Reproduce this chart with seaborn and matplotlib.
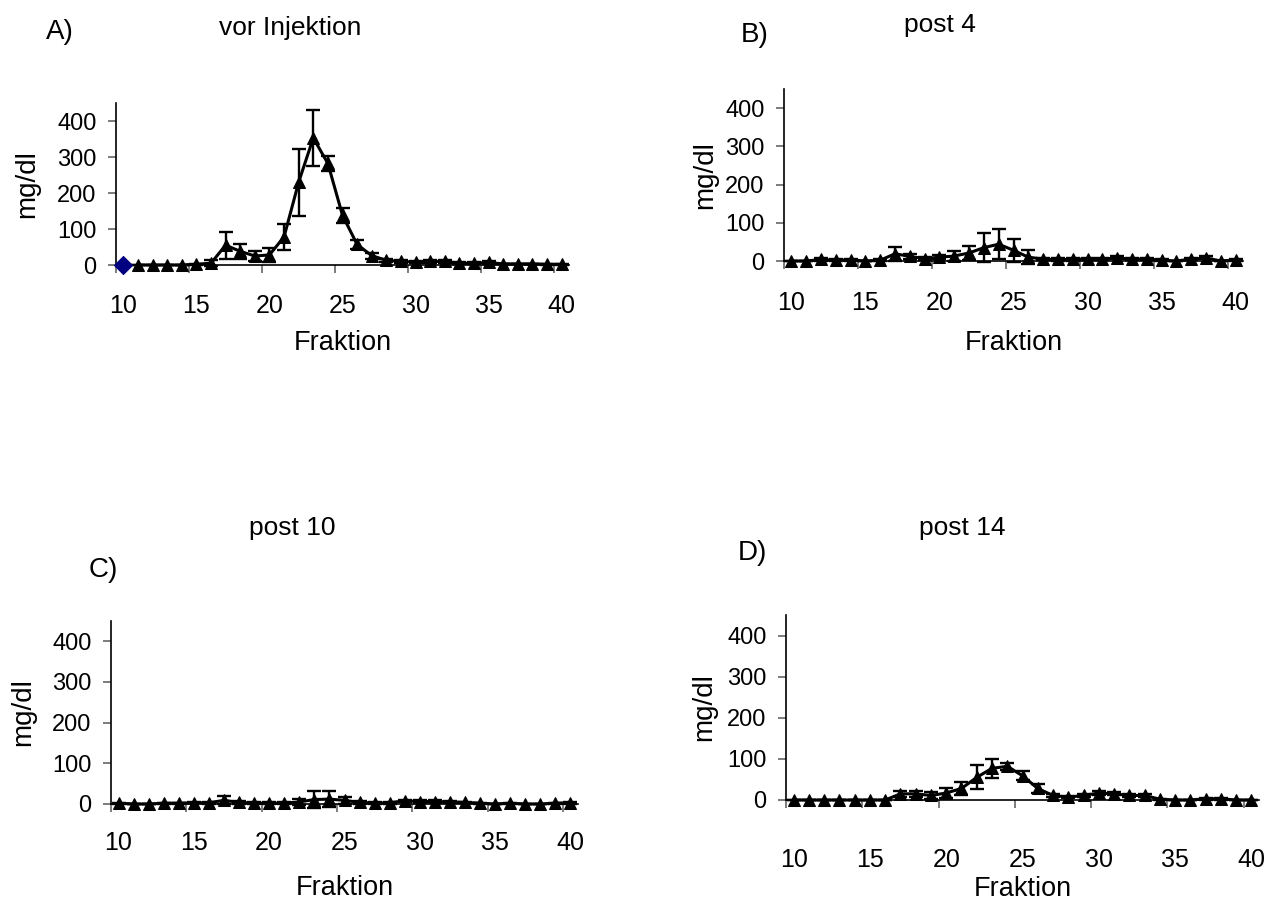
import numpy as np
import pandas as pd
import matplotlib
matplotlib.use("Agg")
import matplotlib.pyplot as plt
import seaborn as sns

# ---------------- data ----------------
fractions = list(range(10, 41))                 # Fraktion 10 .. 40
tick_labels = [10, 15, 20, 25, 30, 35, 40]
y_ticks = [0, 100, 200, 300, 400]

# Panel A (vor Injektion): triangles from fraction 11, one blue diamond at 10
A_frac = list(range(11, 41))
A_mean = [0, 0, 0, 0, 2, 5, 55, 38, 25, 28, 78, 230, 353, 282, 138, 57, 26, 13,
          10, 8, 10, 10, 5, 5, 7, 3, 3, 3, 2, 2]
A_err = [1, 1, 1, 1, 2, 8, 37, 20, 13, 20, 35, 93, 77, 22, 20, 13, 8, 5,
         4, 3, 4, 4, 2, 2, 3, 1, 1, 1, 1, 1]
A_diamond_frac = [10]
A_diamond_val = [0]

# Panel B (post 4)
B_mean = [0, 0, 4, 2, 3, 0, 2, 19, 12, 6, 10, 13, 21, 35, 44, 28, 10,
          5, 4, 4, 6, 5, 8, 5, 5, 2, 0, 5, 8, 0, 3]
B_err = [1, 1, 5, 2, 2, 1, 2, 18, 6, 4, 6, 12, 18, 37, 40, 30, 18,
         3, 3, 3, 3, 3, 4, 3, 3, 2, 1, 3, 4, 1, 2]

# Panel C (post 10)
C_mean = [2, 0, 0, 2, 2, 3, 3, 9, 4, 2, 2, 2, 5, 11, 12, 9, 4,
          2, 3, 8, 6, 6, 5, 4, 2, 0, 2, 0, 0, 2, 3]
C_err = [1, 1, 1, 1, 1, 1, 2, 10, 3, 2, 2, 3, 8, 20, 19, 8, 3,
         2, 2, 3, 3, 3, 3, 2, 1, 1, 1, 1, 1, 1, 2]

# Panel D (post 14)
D_mean = [0, 0, 0, 0, 0, 0, 0, 15, 15, 11, 17, 28, 55, 77, 82, 59, 28,
          11, 7, 11, 17, 15, 11, 11, 2, 0, 0, 3, 3, 0, 0]
D_err = [1, 1, 1, 1, 1, 1, 1, 8, 8, 8, 11, 16, 29, 23, 8, 11, 11,
         3, 3, 3, 5, 4, 3, 3, 1, 1, 1, 2, 2, 1, 1]

titles = ["vor Injektion", "post 4", "post 10", "post 14"]
letters = ["A)", "B)", "C)", "D)"]

# ---------------- style ----------------
sns.set_style("ticks")
plt.rcParams["font.family"] = ["Liberation Sans", "DejaVu Sans"]
plt.rcParams["text.color"] = "black"
plt.rcParams["axes.labelcolor"] = "black"
plt.rcParams["xtick.labelcolor"] = "black"
plt.rcParams["ytick.labelcolor"] = "black"

W, H = 1277, 902
fig = plt.figure(figsize=(W / 100, H / 100), dpi=100)


def px_axes(left, right, bottom, top):
    return fig.add_axes([left / W, (H - bottom) / H, (right - left) / W, (bottom - top) / H])


panels = [
    dict(box=(116, 569, 265, 103), x=A_frac, y=A_mean, e=A_err, xpad=21, ylab_x=-0.168, xlab_y=-0.40),
    dict(box=(784, 1243, 261, 89), x=fractions, y=B_mean, e=B_err, xpad=21.5, ylab_x=-0.144, xlab_y=-0.40),
    dict(box=(111, 578, 804, 621), x=fractions, y=C_mean, e=C_err, xpad=19.5, ylab_x=-0.16, xlab_y=-0.39),
    dict(box=(786, 1259, 800, 615), x=fractions, y=D_mean, e=D_err, xpad=34.5, ylab_x=-0.146, xlab_y=-0.41),
]

for i, p in enumerate(panels):
    ax = px_axes(*p["box"])
    df = pd.DataFrame({"Fraktion": p["x"], "mg/dl": p["y"]})
    ax.errorbar(df["Fraktion"], df["mg/dl"], yerr=p["e"], fmt="none", ecolor="black",
                elinewidth=1.7, capsize=5, capthick=1.7, clip_on=False, zorder=3)
    sns.lineplot(data=df, x="Fraktion", y="mg/dl", ax=ax, color="black", lw=2.2,
                 marker="^", markersize=8, markeredgecolor="black",
                 markerfacecolor="black", clip_on=False, zorder=4)
    if i == 0:
        dd = pd.DataFrame({"Fraktion": A_diamond_frac, "mg/dl": A_diamond_val})
        sns.scatterplot(data=dd, x="Fraktion", y="mg/dl", ax=ax, marker="D", s=85,
                        color="#000080", edgecolor="#000080", clip_on=False, zorder=5)

    ax.set_xlim(9.5, 40.5)
    ax.set_ylim(0, 450)
    # tick marks at category boundaries, labels at category centres
    ax.set_xticks([t - 0.5 for t in tick_labels])
    ax.set_xticklabels([])
    ax.set_xticks(tick_labels, minor=True)
    ax.set_xticklabels([str(t) for t in tick_labels], minor=True)
    ax.tick_params(axis="x", which="major", length=6, width=1.2, color="#666666", direction="out")
    ax.tick_params(axis="x", which="minor", length=0, pad=p["xpad"], labelsize=18)
    ax.set_yticks(y_ticks)
    ax.set_yticklabels([str(v) for v in y_ticks])
    ax.tick_params(axis="y", length=6, width=1.2, color="#666666", direction="out",
                   pad=8, labelsize=17)
    for s in ["top", "right"]:
        ax.spines[s].set_visible(False)
    for s in ["left", "bottom"]:
        ax.spines[s].set_color("black")
        ax.spines[s].set_linewidth(1.2)
    ax.set_xlabel("Fraktion", fontsize=19.5)
    ax.set_ylabel("mg/dl", fontsize=20)
    ax.xaxis.set_label_coords(0.5, p["xlab_y"])
    ax.yaxis.set_label_coords(p["ylab_x"], 0.5)
    if ax.get_legend():
        ax.get_legend().remove()

# titles and panel letters
title_pos = [(290, 28), (940, 25), (292, 528), (962, 528)]
letter_pos = [(60, 32), (755, 35), (103, 570), (752, 553)]
for t, (x, y) in zip(titles, title_pos):
    fig.text(x / W, 1 - y / H, t, ha="center", va="center", fontsize=19)
for t, (x, y) in zip(letters, letter_pos):
    fig.text(x / W, 1 - y / H, t, ha="center", va="center", fontsize=20)

fig.savefig("out.png", dpi=100)
